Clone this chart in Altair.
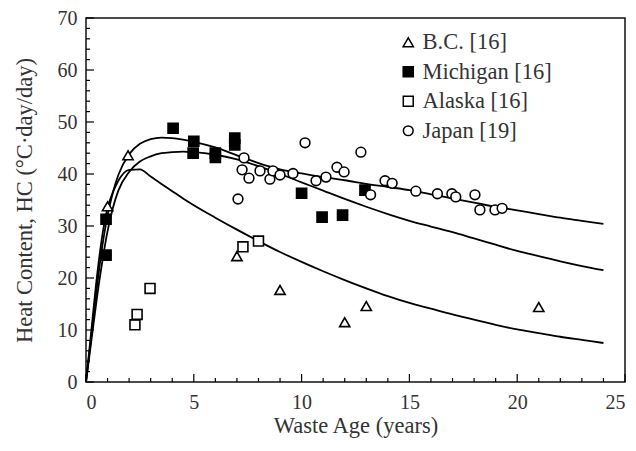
import altair as alt
import pandas as pd

# ---------------- data ----------------
series_names = ["B.C. [16]", "Michigan [16]", "Alaska [16]", "Japan [19]"]

bc_x = [1.0, 1.95, 7.0, 9.0, 12.0, 13.0, 21.0]
bc_y = [33.8, 43.6, 24.2, 17.7, 11.5, 14.6, 14.4]

mi_x = [0.93, 0.93, 4.04, 5.0, 4.97, 6.0, 6.0, 6.9, 6.9, 10.0, 10.95, 11.9, 12.94]
mi_y = [24.4, 31.3, 48.8, 46.3, 44.0, 44.0, 43.2, 46.9, 45.6, 36.3, 31.7, 32.1, 36.9]

ak_x = [2.27, 2.37, 2.97, 7.28, 8.0]
ak_y = [11.0, 13.0, 18.0, 26.0, 27.1]

jp_x = [7.05, 7.24, 7.33, 7.56, 8.07, 8.53, 8.67, 9.0, 9.6, 10.16, 10.67, 11.13,
        11.64, 11.97, 12.75, 13.2, 13.87, 14.2, 15.3, 16.3, 16.97, 17.15, 18.04,
        18.27, 18.97, 19.3]
jp_y = [35.2, 40.8, 43.1, 39.2, 40.6, 39.0, 40.6, 39.8, 40.1, 46.0, 38.7, 39.4,
        41.3, 40.4, 44.2, 36.0, 38.7, 38.2, 36.7, 36.2, 36.2, 35.6, 36.0,
        33.1, 33.1, 33.4]

curve_x = [0, 0.25, 0.5, 0.75, 1, 1.25, 1.5, 2, 2.5, 3, 3.5, 4, 4.5, 5, 6, 7, 8,
           9, 10, 11, 12, 13, 14, 15, 16, 17, 18, 19, 20, 21, 22, 23, 24]
upper_y = [0, 9, 18, 26, 32, 36.5, 39.8, 43.8, 45.8, 46.7, 47.0, 46.9, 46.6, 46.2,
           45.1, 43.6, 42.1, 40.9, 40.1, 39.4, 38.8, 38.1, 37.5, 36.9, 36.1, 35.3,
           34.5, 33.7, 33.0, 32.3, 31.6, 31.0, 30.4]
middle_y = [0, 8, 16, 23, 29, 33.5, 36.8, 40.4, 42.4, 43.4, 44.0, 44.2, 44.3, 44.2,
            43.7, 42.8, 41.5, 40.0, 38.4, 36.8, 35.2, 33.7, 32.3, 31.0, 29.9, 28.8,
            27.6, 26.4, 25.2, 24.2, 23.2, 22.3, 21.5]
lower_y = [0, 10, 20, 28, 33.5, 36.5, 38.7, 40.8, 40.9, 39.5, 38.1, 36.7, 35.3, 34.0,
           31.6, 29.3, 27.1, 25.0, 23.1, 21.3, 19.6, 18.0, 16.5, 15.2, 14.1, 13.0,
           12.0, 11.0, 10.1, 9.4, 8.7, 8.1, 7.5]

x_major = [0, 5, 10, 15, 20, 25]
x_minor = [v for v in range(0, 26) if v % 5 != 0]
y_major = [0, 10, 20, 30, 40, 50, 60, 70]
y_minor = [v for v in range(0, 71, 2) if v % 10 != 0]

# ---------------- tables ----------------
rows = []
for name, xs_, ys_ in zip(series_names, [bc_x, mi_x, ak_x, jp_x], [bc_y, mi_y, ak_y, jp_y]):
    for a, b in zip(xs_, ys_):
        rows.append({"series": name, "age": a, "hc": b})
pts = pd.DataFrame(rows)

crows = []
for cname, cy in [("upper", upper_y), ("middle", middle_y), ("lower", lower_y)]:
    for a, b in zip(curve_x, cy):
        crows.append({"curve": cname, "age": a, "hc": b})
curves = pd.DataFrame(crows)

W, H = 539, 364
FONT = "Liberation Serif"
xscale = alt.Scale(domain=[0, 25], nice=False, zero=False)
yscale = alt.Scale(domain=[0, 70], nice=False, zero=False)

xaxis = alt.Axis(title="Waste Age (years)", values=x_major, ticks=False, domain=False,
                 grid=False, labelPadding=10, titlePadding=2)
yaxis = alt.Axis(title="Heat Content, HC (°C·day/day)", values=y_major, ticks=False,
                 domain=False, grid=False, labelPadding=9, titlePadding=21)

leg = alt.Legend(title=None, orient="none", legendX=311, legendY=13)

curve_layer = alt.Chart(curves).mark_line(color="black", strokeWidth=1.8,
                                          interpolate="monotone").encode(
    x=alt.X("age:Q", scale=xscale, axis=xaxis),
    y=alt.Y("hc:Q", scale=yscale, axis=yaxis),
    detail="curve:N",
)

point_layer = alt.Chart(pts).mark_point(opacity=1, strokeWidth=1.6).encode(
    x=alt.X("age:Q", scale=xscale),
    y=alt.Y("hc:Q", scale=yscale),
    shape=alt.Shape("series:N",
                    scale=alt.Scale(domain=series_names,
                                    range=["triangle-up", "square", "square", "circle"]),
                    legend=leg),
    fill=alt.Fill("series:N",
                  scale=alt.Scale(domain=series_names,
                                  range=["white", "black", "white", "white"]),
                  legend=leg),
    stroke=alt.Stroke("series:N",
                      scale=alt.Scale(domain=series_names,
                                      range=["black", "black", "black", "black"]),
                      legend=leg),
    size=alt.Size("series:N", scale=alt.Scale(domain=series_names, range=[105, 95, 50, 95]),
                  legend=leg),
)

def xticks(vals, ln):
    return alt.Chart(pd.DataFrame({"t": vals})).mark_rule(color="black", strokeWidth=1.2).encode(
        x=alt.X("t:Q", scale=xscale), y=alt.value(H), y2=alt.value(H - ln))

def yticks(vals, ln):
    return alt.Chart(pd.DataFrame({"t": vals})).mark_rule(color="black", strokeWidth=1.2).encode(
        y=alt.Y("t:Q", scale=yscale), x=alt.value(0), x2=alt.value(ln))

chart = alt.layer(
    curve_layer, point_layer,
    xticks(x_major, 8), xticks(x_minor, 4),
    yticks(y_major, 8), yticks(y_minor, 4),
).properties(
    width=W, height=H,
    autosize=alt.AutoSizeParams(type="none"),
    padding={"left": 78, "top": 10, "right": 3, "bottom": 61},
).configure_view(
    stroke="#111", strokeWidth=1.5,
).configure_axis(
    labelFont=FONT, labelFontSize=20, labelColor="#333",
    titleFont=FONT, titleFontSize=22.5, titleFontWeight="normal", titleColor="#333",
).configure_legend(
    labelFont=FONT, labelFontSize=22.5, labelColor="#333",
    symbolStrokeWidth=1.5,
    rowPadding=6.5, labelOffset=3, padding=0,
)

chart.save("out.html", embed_options={"renderer": "svg", "actions": False})
